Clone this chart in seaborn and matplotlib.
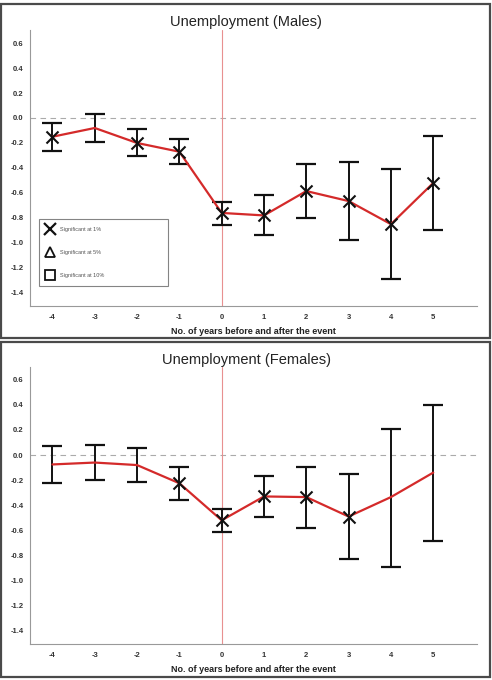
import numpy as np
import pandas as pd
import matplotlib
matplotlib.use('Agg')
import matplotlib.pyplot as plt
import matplotlib.patches as mpatches
from matplotlib.lines import Line2D
import seaborn as sns

years = [-4, -3, -2, -1, 0, 1, 2, 3, 4, 5]

# Males
m_est = [-0.15, -0.08, -0.20, -0.27, -0.76, -0.78, -0.585, -0.665, -0.85, -0.52]
m_lo = [-0.265, -0.19, -0.305, -0.37, -0.86, -0.935, -0.80, -0.975, -1.285, -0.895]
m_hi = [-0.04, 0.03, -0.085, -0.165, -0.67, -0.62, -0.365, -0.355, -0.405, -0.145]
m_sig = [True, False, True, True, True, True, True, True, True, True]

# Females
f_est = [-0.075, -0.06, -0.08, -0.225, -0.52, -0.33, -0.335, -0.49, -0.335, -0.14]
f_lo = [-0.22, -0.195, -0.215, -0.36, -0.615, -0.49, -0.585, -0.83, -0.895, -0.685]
f_hi = [0.07, 0.08, 0.055, -0.095, -0.43, -0.17, -0.095, -0.15, 0.21, 0.395]
f_sig = [False, False, False, True, True, True, True, True, False, False]

yticks = [0.6, 0.4, 0.2, 0.0, -0.2, -0.4, -0.6, -0.8, -1.0, -1.2, -1.4]

sns.set_style("white")
plt.rcParams['font.family'] = ['Liberation Sans', 'DejaVu Sans']
plt.rcParams['axes.unicode_minus'] = False

fig = plt.figure(figsize=(4.92, 6.8), dpi=100)

# panel frames
for y0, h in [(0.503, 0.491), (0.0044, 0.4926)]:
    fig.patches.append(mpatches.Rectangle((0.003, y0), 0.993, h, transform=fig.transFigure,
                                          fill=False, edgecolor='#4a4a4a', linewidth=1.6))

panels = [
    ("Unemployment (Males)", m_est, m_lo, m_hi, m_sig, [0.061, 0.55, 0.909, 0.406], 0.967),
    ("Unemployment (Females)", f_est, f_lo, f_hi, f_sig, [0.061, 0.053, 0.909, 0.408], 0.471),
]

for i, (title, est, lo, hi, sig, rect, ty) in enumerate(panels):
    ax = fig.add_axes(rect)
    df = pd.DataFrame({'year': years, 'est': est, 'lo': lo, 'hi': hi, 'sig': sig})

    ax.axhline(0, color='#aaaaaa', linestyle=(0, (5, 4)), linewidth=0.8, zorder=1)
    ax.axvline(0, color='#e89090', linewidth=0.8, zorder=1)

    yerr = [df['est'] - df['lo'], df['hi'] - df['est']]
    ax.errorbar(df['year'], df['est'], yerr=yerr, fmt='none', ecolor='#111111',
                elinewidth=1.4, capsize=7, capthick=1.6, zorder=2)
    sns.lineplot(data=df, x='year', y='est', color='#d42a2a', linewidth=1.6, ax=ax, zorder=3)
    sns.scatterplot(data=df[df['sig']], x='year', y='est', marker='x', s=75, color='#111111',
                    linewidth=1.5, ax=ax, zorder=4)

    ax.set_xlim(-4.53, 6.04)
    ax.set_ylim(-1.505, 0.705)
    ax.set_xticks(years)
    ax.set_xticklabels([str(y) for y in years], fontsize=5.5, fontweight='bold', color='#333333')
    ax.set_yticks(yticks)
    ax.set_yticklabels([f"{v:.1f}" for v in yticks], fontsize=5.5, fontweight='bold', color='#333333')
    ax.tick_params(axis='both', direction='out', length=3, width=0.7, color='#777777', pad=1.5)
    ax.tick_params(axis='x', pad=3)
    for s in ['top', 'right']:
        ax.spines[s].set_visible(False)
    for s in ['left', 'bottom']:
        ax.spines[s].set_color('#999999')
        ax.spines[s].set_linewidth(0.8)
    ax.set_ylabel('')
    ax.set_xlabel('No. of years before and after the event', fontsize=6.5, fontweight='bold',
                  color='#222222', labelpad=4)
    fig.text(0.5, ty, title, ha='center', va='center', fontsize=10.5, color='#222222')

    if i == 0:
        handles = [
            Line2D([], [], linestyle='none', marker='x', color='#111111', markersize=8, markeredgewidth=1.6),
            Line2D([], [], linestyle='none', marker='^', markerfacecolor='white', markeredgecolor='#111111',
                   markersize=7, markeredgewidth=1.3),
            Line2D([], [], linestyle='none', marker='s', markerfacecolor='white', markeredgecolor='#111111',
                   markersize=6.5, markeredgewidth=1.3),
        ]
        labels = ['Significant at 1%', 'Significant at 5%', 'Significant at 10%']
        leg = ax.legend(handles, labels, loc='lower left', bbox_to_anchor=(0.015, 0.062, 0.30, 0.261),
                        mode='expand', fontsize=4, frameon=True, fancybox=False, labelspacing=3.3,
                        borderpad=1.4, handletextpad=1.3, handlelength=1.0)
        leg.get_frame().set_edgecolor('#666666')
        leg.get_frame().set_linewidth(0.8)
        for t in leg.get_texts():
            t.set_color('#555555')

fig.savefig('out.png', dpi=100)
